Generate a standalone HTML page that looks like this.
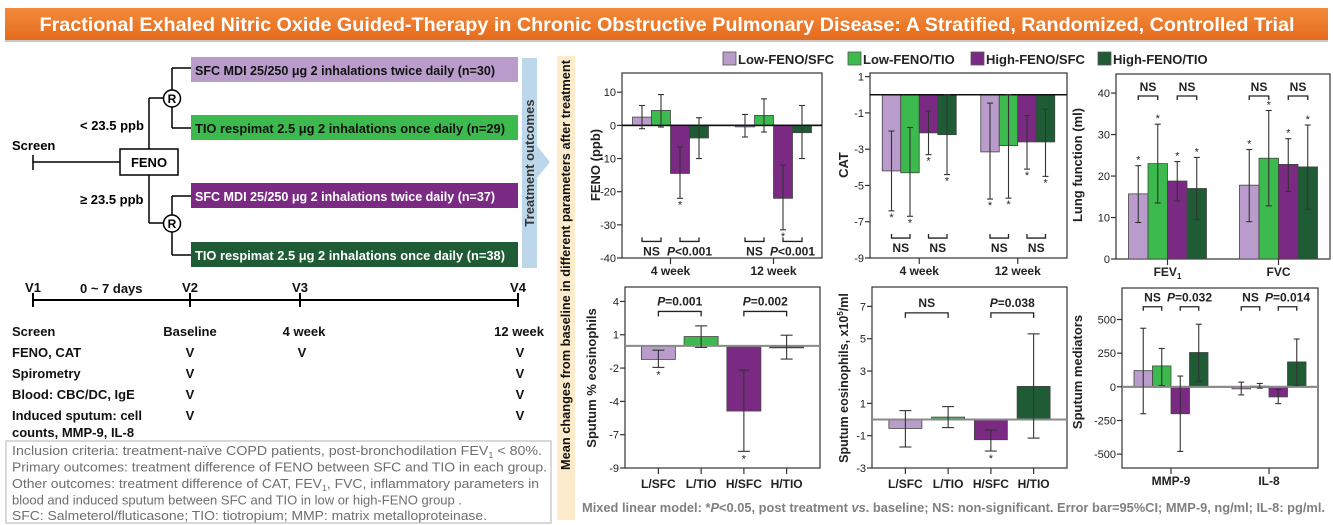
<!DOCTYPE html>
<html><head><meta charset="utf-8">
<style>
html,body{margin:0;padding:0;background:#fff;}
svg{display:block;font-family:"Liberation Sans",Arial,sans-serif;}
.b{font-weight:bold;}
</style></head>
<body>
<svg id="root" width="1333" height="525" viewBox="0 0 1333 525" xmlns="http://www.w3.org/2000/svg">
<defs>
<linearGradient id="tg" x1="0" y1="0" x2="0" y2="1"><stop offset="0" stop-color="#f28a3c"/><stop offset="1" stop-color="#e66b1c"/></linearGradient>
</defs>
<rect x="0" y="0" width="1333" height="525" fill="#fff"/>
<!-- title -->
<rect x="5" y="8" width="1323" height="32" fill="url(#tg)"/>
<rect x="5" y="40" width="1323" height="2" fill="#c9c9c9"/>
<text x="667" y="31" text-anchor="middle" fill="#fff" class="b" font-size="19" textLength="1255" lengthAdjust="spacingAndGlyphs">Fractional Exhaled Nitric Oxide Guided-Therapy in Chronic Obstructive Pulmonary Disease: A Stratified, Randomized, Controlled Trial</text>

<!-- flow diagram -->
<g stroke="#000" stroke-width="1.5" fill="none">
<line x1="33" y1="162" x2="120" y2="162"/><line x1="33" y1="155" x2="33" y2="170"/>
<line x1="149" y1="98" x2="149" y2="149"/><line x1="149" y1="175" x2="149" y2="223"/>
<line x1="149" y1="98" x2="163" y2="98"/><line x1="149" y1="223" x2="163" y2="223"/>
<line x1="172" y1="90" x2="172" y2="68"/><line x1="172" y1="68" x2="191" y2="68"/>
<line x1="172" y1="107" x2="172" y2="128"/><line x1="172" y1="128" x2="191" y2="128"/>
<line x1="172" y1="215" x2="172" y2="196"/><line x1="172" y1="196" x2="191" y2="196"/>
<line x1="172" y1="232" x2="172" y2="255"/><line x1="172" y1="255" x2="191" y2="255"/>
</g>
<rect x="120" y="149" width="58" height="26" fill="#fff" stroke="#000" stroke-width="1.5"/>
<text x="149" y="167" text-anchor="middle" class="b" font-size="13">FENO</text>
<text x="12" y="150" class="b" font-size="13">Screen</text>
<text x="80" y="130" class="b" font-size="13">&lt; 23.5 ppb</text>
<text x="80" y="204" class="b" font-size="13">≥ 23.5 ppb</text>
<circle cx="172" cy="98.5" r="8.5" fill="#fff" stroke="#000" stroke-width="1.5"/>
<text x="172" y="103" text-anchor="middle" class="b" font-size="12">R</text>
<circle cx="172" cy="223.5" r="8.5" fill="#fff" stroke="#000" stroke-width="1.5"/>
<text x="172" y="228" text-anchor="middle" class="b" font-size="12">R</text>
<rect x="191" y="57" width="327" height="25" fill="#b99ccb"/>
<text x="195" y="75" class="b" font-size="12.5" fill="#111" textLength="300" lengthAdjust="spacingAndGlyphs">SFC MDI 25/250 μg 2 inhalations twice daily (n=30)</text>
<rect x="191" y="115" width="327" height="25" fill="#3dba4e"/>
<text x="195" y="133" class="b" font-size="12.5" fill="#111" textLength="310" lengthAdjust="spacingAndGlyphs">TIO respimat 2.5 μg 2 inhalations once daily (n=29)</text>
<rect x="191" y="183" width="327" height="25" fill="#7b2a84"/>
<text x="195" y="201" class="b" font-size="12.5" fill="#fff" textLength="300" lengthAdjust="spacingAndGlyphs">SFC MDI 25/250 μg 2 inhalations twice daily (n=37)</text>
<rect x="191" y="242" width="327" height="25" fill="#1f5c36"/>
<text x="195" y="260" class="b" font-size="12.5" fill="#fff" textLength="310" lengthAdjust="spacingAndGlyphs">TIO respimat 2.5 μg 2 inhalations once daily (n=38)</text>
<rect x="522" y="58" width="15" height="210" fill="#bcd6ea"/>
<polygon points="537,146 550,162 537,178" fill="#bcd6ea"/>
<text transform="translate(534,163) rotate(-90)" text-anchor="middle" class="b" font-size="13" fill="#333">Treatment outcomes</text>
<rect x="557" y="56" width="18" height="464" fill="#fdeccb"/>
<text transform="translate(570,265) rotate(-90)" text-anchor="middle" class="b" font-size="13" fill="#111" textLength="410" lengthAdjust="spacingAndGlyphs">Mean changes from baseline in different parameters after treatment</text>

<!-- timeline -->
<g stroke="#000" stroke-width="2">
<line x1="33" y1="300" x2="518" y2="300"/>
<line x1="33" y1="293" x2="33" y2="307"/><line x1="190" y1="293" x2="190" y2="307"/>
<line x1="300" y1="293" x2="300" y2="307"/><line x1="518" y1="293" x2="518" y2="307"/>
</g>
<g class="b" font-size="13" fill="#111">
<text x="33" y="292" text-anchor="middle">V1</text><text x="190" y="292" text-anchor="middle">V2</text>
<text x="300" y="292" text-anchor="middle">V3</text><text x="518" y="292" text-anchor="middle">V4</text>
<text x="80" y="293">0 ~ 7 days</text>
<text x="12" y="336">Screen</text><text x="190" y="336" text-anchor="middle">Baseline</text>
<text x="304" y="336" text-anchor="middle">4 week</text><text x="544" y="336" text-anchor="end">12 week</text>
<text x="12" y="357">FENO, CAT</text><text x="190" y="357" text-anchor="middle">V</text><text x="302" y="357" text-anchor="middle">V</text><text x="520" y="357" text-anchor="middle">V</text>
<text x="12" y="378">Spirometry</text><text x="190" y="378" text-anchor="middle">V</text><text x="520" y="378" text-anchor="middle">V</text>
<text x="12" y="399">Blood: CBC/DC, IgE</text><text x="190" y="399" text-anchor="middle">V</text><text x="520" y="399" text-anchor="middle">V</text>
<text x="12" y="420">Induced sputum: cell</text><text x="190" y="420" text-anchor="middle">V</text><text x="520" y="420" text-anchor="middle">V</text>
<text x="12" y="437">counts, MMP-9, IL-8</text>
</g>
<rect x="6" y="441" width="545" height="82" fill="#fff" stroke="#ccc" stroke-width="1.5"/>
<g font-size="12.5" fill="#6e6e6e">
<text x="12" y="455" textLength="530" lengthAdjust="spacingAndGlyphs">Inclusion criteria: treatment-naïve COPD patients, post-bronchodilation FEV<tspan font-size="8" dy="3">1</tspan><tspan dy="-3"> &lt; 80%.</tspan></text>
<text x="12" y="471.5" textLength="535" lengthAdjust="spacingAndGlyphs">Primary outcomes: treatment difference of FENO between SFC and TIO in each group.</text>
<text x="12" y="488" textLength="527" lengthAdjust="spacingAndGlyphs">Other outcomes: treatment difference of CAT, FEV<tspan font-size="8" dy="3">1</tspan><tspan dy="-3">, FVC, inflammatory parameters in</tspan></text>
<text x="12" y="504.5" textLength="450" lengthAdjust="spacingAndGlyphs">blood and induced sputum between SFC and TIO in low or high-FENO group .</text>
<text x="12" y="520" textLength="475" lengthAdjust="spacingAndGlyphs">SFC: Salmeterol/fluticasone; TIO: tiotropium;  MMP: matrix metalloproteinase.</text>
</g>
<text x="582" y="512" class="b" font-size="12.5" fill="#808080" textLength="743" lengthAdjust="spacingAndGlyphs">Mixed linear model: *<tspan font-style="italic">P</tspan>&lt;0.05, post treatment <tspan font-style="italic">vs</tspan>. baseline; NS: non-significant. Error bar=95%CI; MMP-9, ng/ml; IL-8: pg/ml.</text>
<g id="charts"></g>
</svg>
<script>
const seriesNames=['Low-FENO/SFC','Low-FENO/TIO','High-FENO/SFC','High-FENO/TIO'];
const seriesColors=['#b99ccb','#3dba4e','#7b2a84','#1f5c36'];
// FENO
const fenoCats=['4 week','12 week'];
const fenoTicks=[10,0,-10,-20,-30,-40];
const fenoLowSFC=[2.5,-0.3], fenoLowTIO=[4.5,3], fenoHighSFC=[-14.5,-22], fenoHighTIO=[-3.8,-2.2];
const fenoLowSFCci=[[-1,6],[-3.5,3.3]], fenoLowTIOci=[[-0.5,9.3],[-2,8]], fenoHighSFCci=[[-22,-6.5],[-31.5,-12]], fenoHighTIOci=[[-10,2.3],[-10,6]];
const fenoStars=[[0,0],[0,0],[1,1],[0,0]];
const fenoBrackets=[[0,0,1,'NS'],[0,2,3,'P<0.001'],[1,0,1,'NS'],[1,2,3,'P<0.001']];
// CAT
const catCats=['4 week','12 week'];
const catTicks=[1,-1,-3,-5,-7,-9];
const catLowSFC=[-4.2,-3.15], catLowTIO=[-4.3,-2.8], catHighSFC=[-2.1,-2.6], catHighTIO=[-2.2,-2.6];
const catLowSFCci=[[-6.4,-2],[-5.75,-0.46]], catLowTIOci=[[-6.7,-1.8],[-5.7,0]], catHighSFCci=[[-3.3,-0.9],[-4.1,-1.15]], catHighTIOci=[[-4.4,0],[-4.5,-0.8]];
const catStars=[[1,1],[1,1],[1,1],[1,1]];
const catBrackets=[[0,0,1,'NS'],[0,2,3,'NS'],[1,0,1,'NS'],[1,2,3,'NS']];
// Lung function
const lungCats=['FEV1','FVC'];
const lungTicks=[0,10,20,30,40];
const lungLowSFC=[15.7,17.8], lungLowTIO=[23,24.3], lungHighSFC=[18.8,22.8], lungHighTIO=[17,22.2];
const lungLowSFCci=[[8.8,22.5],[9,26.4]], lungLowTIOci=[[13.5,32.5],[12.8,35.8]], lungHighSFCci=[[14,23.5],[16.3,29]], lungHighTIOci=[[9.5,24.5],[12,32.3]];
const lungStars=[[1,1],[1,1],[1,1],[1,1]];
const lungBrackets=[[0,0,1,'NS'],[0,2,3,'NS'],[1,0,1,'NS'],[1,2,3,'NS']];
// Sputum mediators
const medCats=['MMP-9','IL-8'];
const medTicks=[500,250,0,-250,-500];
const medLowSFC=[120,-15], medLowTIO=[155,5], medHighSFC=[-200,-75], medHighTIO=[255,185];
const medLowSFCci=[[-200,435],[-60,35]], medLowTIOci=[[10,285],[-10,25]], medHighSFCci=[[-480,80],[-125,-20]], medHighTIOci=[[40,465],[10,355]];
const medStars=[[0,0],[0,0],[0,0],[0,0]];
const medBrackets=[[0,0,1,'NS'],[0,2,3,'P=0.032'],[1,0,1,'NS'],[1,2,3,'P=0.014']];
// Sputum % eosinophils
const eosPctCats=['L/SFC','L/TIO','H/SFC','H/TIO'];
const eosPctTicks=[4,1,-2,-5,-8,-11];
const eosPctTickLabels=['4','1','-2','-4','-7','-9'];
const eosPctVals=[-1.22,0.84,-5.87,-0.15];
const eosPctLo=[-1.94,-0.14,-9.5,-1.19];
const eosPctHi=[-0.39,1.8,-2.18,0.96];
const eosPctStars=[1,0,1,0];
const eosPctBrackets=[[0,1,'P=0.001'],[2,3,'P=0.002']];
// Sputum eosinophil count
const eosCntCats=['L/SFC','L/TIO','H/SFC','H/TIO'];
const eosCntTicks=[7,5,3,1,-1,-3];
const eosCntVals=[-0.55,0.15,-1.25,2.05];
const eosCntLo=[-1.7,-0.5,-1.95,-1.15];
const eosCntHi=[0.55,0.8,-0.65,5.3];
const eosCntStars=[0,0,1,0];
const eosCntBrackets=[[0,1,'NS'],[2,3,'P=0.038']];

const NS='http://www.w3.org/2000/svg';
const root=document.getElementById('charts');
function mk(tag,attrs,parent){const e=document.createElementNS(NS,tag);for(const k in attrs)e.setAttribute(k,attrs[k]);(parent||root).appendChild(e);return e;}
function txt(s,attrs,parent){const e=mk('text',attrs,parent);e.textContent=s;return e;}
function pText(label,attrs,parent){
  const e=mk('text',attrs,parent);
  if(label[0]==='P'){const t=document.createElementNS(NS,'tspan');t.setAttribute('font-style','italic');t.textContent='P';e.appendChild(t);e.appendChild(document.createTextNode(label.slice(1)));}
  else e.textContent=label;
  return e;}

// legend
const legX=[723,848,971,1098];
seriesNames.forEach((n,i)=>{
  const r=mk('rect',{x:legX[i],y:52,width:13,height:13,fill:seriesColors[i],stroke:'#555','stroke-width':0.8});
  
  
  const t=txt(n,{x:legX[i]+15,y:64,'font-size':13,'font-weight':'bold',fill:'#222'});
  
  
});

function frame(c,name){
  const g=mk('g',{});
  
  
  const yS=v=>c.y1-(v-c.min)/(c.max-c.min)*(c.y1-c.y0);
  const bx=mk('rect',{x:c.x0,y:c.y0,width:c.x1-c.x0,height:c.y1-c.y0,fill:'#fff',stroke:'#333','stroke-width':1.2},g);
  
  
  c.ticks.forEach((t,i)=>{
    const y=yS(t);
    mk('line',{x1:c.x0-5,x2:c.x0,y1:y,y2:y,stroke:'#333','stroke-width':1.2},g);
    const tl=txt(c.tickLabels?c.tickLabels[i]:String(t),{x:c.x0-6,y:y+4,'text-anchor':'end','font-size':11,fill:'#222'},g);
    
    
  });
  const yt=txt(c.title,{transform:`translate(${c.titleX},${c.titleY}) rotate(-90)`,'text-anchor':'middle','font-size':c.titleSize||13,'font-weight':'bold',fill:'#222'},g);
  
  
  if(c.sup){const s=document.createElementNS(NS,'tspan');s.setAttribute('font-size',8);s.setAttribute('dy',-5);s.textContent=c.sup;yt.appendChild(s);const s2=document.createElementNS(NS,'tspan');s2.setAttribute('dy',5);s2.textContent=c.titleTail;yt.appendChild(s2);}
  return {g,yS};
}
function errBar(g,x,lo,hi,yS,cap){
  const e=mk('g',{stroke:'#333','stroke-width':1.1},g);
  
  
  mk('line',{x1:x,x2:x,y1:yS(lo),y2:yS(hi)},e);
  mk('line',{x1:x-cap,x2:x+cap,y1:yS(lo),y2:yS(lo)},e);
  mk('line',{x1:x-cap,x2:x+cap,y1:yS(hi),y2:yS(hi)},e);
}
function grouped(c){
  const {g,yS}=frame(c,c.name);
  const n=c.cats.length, band=(c.x1-c.x0-2*c.pad)/n;
  const cx=i=>c.x0+c.pad+(i+0.5)*band;
  const bw=c.bw, bx=(i,s)=>cx(i)-2*bw+s*bw;
  if(c.zero){const z=mk('line',{x1:c.x0,x2:c.x1,y1:yS(0),y2:yS(0),stroke:c.zeroColor,'stroke-width':c.zeroW},g);}
  c.series.forEach((vals,s)=>{
    vals.forEach((v,i)=>{
      const y0=yS(Math.max(v,0)), y1=yS(Math.min(v,0));
      const r=mk('rect',{x:bx(i,s),y:y0,width:bw,height:Math.max(y1-y0,1.5),fill:seriesColors[s],stroke:'#444','stroke-width':0.8},g);
      
      
    });
  });
  if(c.zero&&c.zeroTop){mk('line',{x1:c.x0,x2:c.x1,y1:yS(0),y2:yS(0),stroke:c.zeroColor,'stroke-width':c.zeroW},g);}
  c.ci.forEach((arr,s)=>arr.forEach((ci,i)=>{
    const x=bx(i,s)+bw/2;
    errBar(g,x,ci[0],ci[1],yS,3);
    if(c.stars[s][i]){
      const up=c.series[s][i]>0;
      const st=txt('*',{x:x,y:up?yS(ci[1])-2:yS(ci[0])+10,'text-anchor':'middle','font-size':11,fill:'#222'},g);
      
      
    }
  }));
  c.brackets.forEach(b=>{
    const xa=bx(b[0],b[1])+bw/2, xb=bx(b[0],b[2])+bw/2, y=yS(c.brY), d=c.brUp?-4:4;
    const p=mk('path',{d:`M${xa},${y+d}V${y}H${xb}V${y+d}`,fill:'none',stroke:'#222','stroke-width':1.3},g);
    
    
    const t=pText(b[3],{x:(xa+xb)/2,y:c.brUp?y+14:y-5,'text-anchor':'middle','font-size':12,'font-weight':'bold',fill:'#222'},g);
    
    
  });
  c.cats.forEach((name,i)=>{
    mk('line',{x1:cx(i),x2:cx(i),y1:c.y1,y2:c.y1+6,stroke:'#333','stroke-width':1.2},g);
    const t=txt('',{x:cx(i),y:c.y1+17,'text-anchor':'middle','font-size':12,'font-weight':'bold',fill:'#222'},g);
    if(name==='FEV1'){t.textContent='FEV';const s=document.createElementNS(NS,'tspan');s.setAttribute('font-size',8);s.setAttribute('dy',3);s.textContent='1';t.appendChild(s);}
    else t.textContent=name;
    
    
  });
}
function single(c){
  const {g,yS}=frame(c,c.name);
  const n=c.cats.length, band=(c.x1-c.x0-2*c.pad)/n;
  const cx=i=>c.x0+c.pad+(i+0.5)*band;
  c.vals.forEach((v,i)=>{
    const y0=yS(Math.max(v,0)), y1=yS(Math.min(v,0));
    const r=mk('rect',{x:cx(i)-c.bw/2,y:y0,width:c.bw,height:Math.max(y1-y0,2),fill:seriesColors[i],stroke:'#444','stroke-width':0.8},g);
    
    
  });
  const z=mk('line',{x1:c.x0,x2:c.x1,y1:yS(0),y2:yS(0),stroke:'#8a8a8a','stroke-width':2},g);
  
  
  c.vals.forEach((v,i)=>{
    errBar(g,cx(i),c.lo[i],c.hi[i],yS,6);
    if(c.stars[i]){const st=txt('*',{x:cx(i),y:yS(c.lo[i])+11,'text-anchor':'middle','font-size':11,fill:'#222'},g);
      
      }
  });
  c.brackets.forEach(b=>{
    const xa=cx(b[0]), xb=cx(b[1]), y=yS(c.brY);
    const p=mk('path',{d:`M${xa},${y+5}V${y}H${xb}V${y+5}`,fill:'none',stroke:'#222','stroke-width':1.3},g);
    
    
    const t=pText(b[2],{x:(xa+xb)/2,y:y-6,'text-anchor':'middle','font-size':12,'font-weight':'bold',fill:'#222'},g);
    
    
  });
  c.cats.forEach((name,i)=>{
    mk('line',{x1:cx(i),x2:cx(i),y1:c.y1,y2:c.y1+6,stroke:'#333','stroke-width':1.2},g);
    const t=txt(name,{x:cx(i),y:c.y1+20,'text-anchor':'middle','font-size':12,'font-weight':'bold',fill:'#222'},g);
    
    
  });
}
grouped({name:'feno-chart',x0:622,x1:822,y0:73,y1:258,min:-40,max:15.8,ticks:fenoTicks,title:'FENO (ppb)',titleX:600,titleY:165,
  cats:fenoCats,pad:-3,bw:19,series:[fenoLowSFC,fenoLowTIO,fenoHighSFC,fenoHighTIO],ci:[fenoLowSFCci,fenoLowTIOci,fenoHighSFCci,fenoHighTIOci],
  stars:fenoStars,brackets:fenoBrackets,brY:-35,brUp:true,zero:true,zeroColor:'#111',zeroW:1.5,zeroTop:true});
grouped({name:'cat-chart',x0:870,x1:1067,y0:73,y1:258,min:-9,max:1.2,ticks:catTicks,title:'CAT',titleX:848,titleY:165,
  cats:catCats,pad:0,bw:18.5,series:[catLowSFC,catLowTIO,catHighSFC,catHighTIO],ci:[catLowSFCci,catLowTIOci,catHighSFCci,catHighTIOci],
  stars:catStars,brackets:catBrackets,brY:-7.9,brUp:true,zero:true,zeroColor:'#111',zeroW:1.5,zeroTop:true});
grouped({name:'lung-function-chart',x0:1116,x1:1330,y0:74,y1:259,min:0,max:44.6,ticks:lungTicks,title:'Lung function (ml)',titleX:1082,titleY:165,
  cats:lungCats,pad:-4,bw:19.5,series:[lungLowSFC,lungLowTIO,lungHighSFC,lungHighTIO],ci:[lungLowSFCci,lungLowTIOci,lungHighSFCci,lungHighTIOci],
  stars:lungStars,brackets:lungBrackets,brY:39.3,brUp:false,zero:false});
grouped({name:'sputum-mediators-chart',x0:1122,x1:1318,y0:288,y1:468,min:-603,max:734,ticks:medTicks,title:'Sputum mediators',titleX:1082,titleY:372,
  cats:medCats,pad:0,bw:18.5,series:[medLowSFC,medLowTIO,medHighSFC,medHighTIO],ci:[medLowSFCci,medLowTIOci,medHighSFCci,medHighTIOci],
  stars:medStars,brackets:medBrackets,brY:595,brUp:false,zero:true,zeroColor:'#8a8a8a',zeroW:2,zeroTop:true});
single({name:'sputum-eos-pct-chart',x0:625,x1:820,y0:287,y1:468,min:-11,max:5.3,ticks:eosPctTicks,tickLabels:eosPctTickLabels,title:'Sputum % eosinophils',titleX:596,titleY:378,
  cats:eosPctCats,pad:12,bw:34,vals:eosPctVals,lo:eosPctLo,hi:eosPctHi,stars:eosPctStars,brackets:eosPctBrackets,brY:3.1});
single({name:'sputum-eos-count-chart',x0:872,x1:1067,y0:287,y1:468,min:-3,max:8.2,ticks:eosCntTicks,title:'Sputum eosinophils, x10',sup:'5',titleTail:'/ml',titleSize:12.5,titleX:848,titleY:378,
  cats:eosCntCats,pad:12,bw:33,vals:eosCntVals,lo:eosCntLo,hi:eosCntHi,stars:eosCntStars,brackets:eosCntBrackets,brY:6.6});
</script>
</body></html>
